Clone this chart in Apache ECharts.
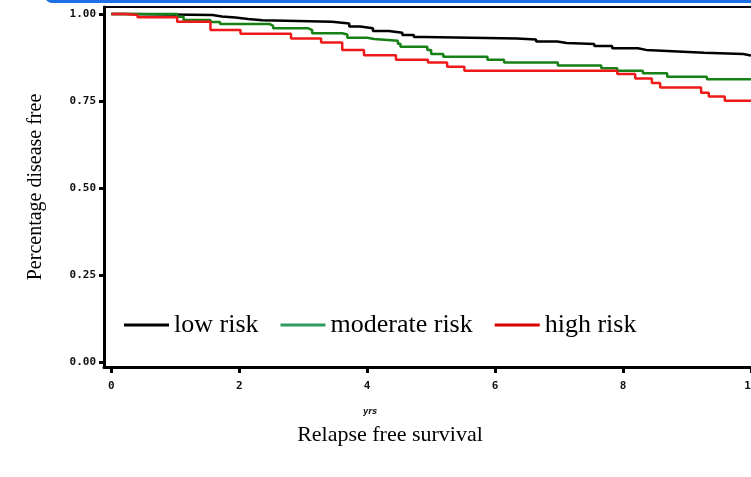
<!DOCTYPE html>
<html>
<head>
<meta charset="utf-8">
<script src="https://cdn.jsdelivr.net/npm/echarts@6/dist/echarts.min.js"></script>
<style>
  html, body { margin: 0; padding: 0; background: #fff; }
  #chart { width: 751px; height: 477px; }
</style>
</head>
<body>
<div id="chart"></div>
<script>
// Kaplan-Meier steps (years, survival)
var lowT = [0, 0.22, 1.58, 1.73, 1.94, 2.14, 2.36, 3.45, 3.72, 3.89, 4.09, 4.34, 4.55, 4.73, 4.89, 6.34, 6.64, 6.97, 7.12, 7.55, 7.83, 8.23, 8.36, 8.94, 9.27, 9.88, 10]
var lowS = [1.000, 0.997, 0.993, 0.990, 0.986, 0.982, 0.978, 0.973, 0.964, 0.959, 0.951, 0.946, 0.940, 0.934, 0.930, 0.927, 0.921, 0.917, 0.914, 0.908, 0.902, 0.897, 0.892, 0.889, 0.885, 0.881, 0.879]

var modT = [0, 1.03, 1.13, 1.55, 1.70, 2.48, 2.53, 3.08, 3.14, 3.61, 3.69, 4.00, 4.11, 4.48, 4.52, 4.94, 5.00, 5.19, 5.88, 6.14, 6.98, 7.66, 7.91, 8.31, 8.69, 9.31, 10]
var modS = [1.000, 0.992, 0.983, 0.977, 0.971, 0.966, 0.959, 0.954, 0.945, 0.941, 0.932, 0.928, 0.923, 0.915, 0.906, 0.897, 0.885, 0.877, 0.869, 0.861, 0.852, 0.844, 0.837, 0.830, 0.820, 0.813, 0.813]

var highT = [0, 0.22, 0.41, 1.03, 1.55, 2.02, 2.81, 3.28, 3.61, 3.95, 4.45, 4.95, 5.25, 5.52, 7.91, 8.19, 8.45, 8.58, 9.22, 9.34, 9.59, 10]
var highS = [1.000, 0.997, 0.991, 0.978, 0.954, 0.943, 0.930, 0.918, 0.897, 0.882, 0.869, 0.861, 0.849, 0.837, 0.828, 0.815, 0.802, 0.789, 0.774, 0.763, 0.751, 0.751]

var groups = ['low risk', 'moderate risk', 'high risk']
var xTicks = [0, 2, 4, 6, 8, 10]
var yTicks = [0, 0.25, 0.5, 0.75, 1]

function zip(t, s) {
  var out = []
  for (var i = 0; i < t.length; i++) {
    out.push([t[i], s[i]])
  }
  return out
}

var myChart = echarts.init(document.getElementById('chart'))
var tickFont = {
  fontFamily: 'DejaVu Sans Mono',
  fontWeight: 'bold',
  fontSize: 11,
  color: '#111'
}

var option = {
  animation: false,
  graphic: [
    {
      type: 'rect',
      shape: { x: 45, y: -12, width: 740, height: 15, r: 7 },
      style: { fill: '#1f6fe6' }
    }
  ],
  title: [
    {
      text: 'yrs',
      left: 365,
      top: 403,
      textAlign: 'center',
      textStyle: { fontFamily: 'DejaVu Sans', fontSize: 8, fontWeight: 'bold', fontStyle: 'italic', color: '#222' }
    },
    {
      text: 'Relapse free survival',
      left: 385,
      top: 419,
      textAlign: 'center',
      textStyle: { fontFamily: 'Liberation Serif', fontSize: 22, fontWeight: 'normal', color: '#000' }
    }
  ],
  legend: {
    left: 119,
    top: 307,
    icon: 'rect',
    itemWidth: 45,
    itemHeight: 3,
    itemGap: 22,
    textStyle: { fontFamily: 'Liberation Serif', fontSize: 26, color: '#000' },
    data: [
      { name: groups[0], itemStyle: { color: '#000' } },
      { name: groups[1], itemStyle: { color: '#2f9a5f' } },
      { name: groups[2], itemStyle: { color: '#d80000' } }
    ]
  },
  grid: {
    left: 104,
    right: -3,
    top: 7,
    bottom: 110,
    outerBoundsMode: 'none',
    show: true,
    borderColor: '#000',
    borderWidth: 2
  },
  xAxis: {
    type: 'value',
    min: -0.114,
    max: 10.047,
    splitLine: { show: false },
    axisLine: { show: true, onZero: false, lineStyle: { color: '#000', width: 3 } },
    axisTick: { show: true, customValues: xTicks, length: 6, lineStyle: { color: '#000', width: 3 } },
    axisLabel: { customValues: xTicks, margin: 14, hideOverlap: false, ...tickFont }
  },
  yAxis: {
    type: 'value',
    min: -0.0129,
    max: 1.0201,
    name: 'Percentage disease free',
    nameLocation: 'middle',
    nameRotate: 90,
    nameGap: 58,
    nameTextStyle: { fontFamily: 'Liberation Serif', fontSize: 20, color: '#000' },
    splitLine: { show: false },
    axisLine: { show: true, onZero: false, lineStyle: { color: '#000', width: 3 } },
    axisTick: { show: true, customValues: yTicks, length: 5, lineStyle: { color: '#000', width: 3 } },
    axisLabel: {
      customValues: yTicks,
      margin: 8,
      formatter: function(v) { return v.toFixed(2) },
      ...tickFont
    }
  },
  series: [
    {
      name: groups[0],
      type: 'line',
      step: 'end',
      symbol: 'none',
      color: '#000',
      lineStyle: { color: '#000', width: 2.5 },
      data: zip(lowT, lowS)
    },
    {
      name: groups[1],
      type: 'line',
      step: 'end',
      symbol: 'none',
      color: '#2f9a5f',
      lineStyle: { color: '#178017', width: 2.5 },
      data: zip(modT, modS)
    },
    {
      name: groups[2],
      type: 'line',
      step: 'end',
      symbol: 'none',
      color: '#d80000',
      lineStyle: { color: '#ee1a1a', width: 2.5 },
      data: zip(highT, highS)
    }
  ]
}
option && myChart.setOption(option)
</script>
</body>
</html>
